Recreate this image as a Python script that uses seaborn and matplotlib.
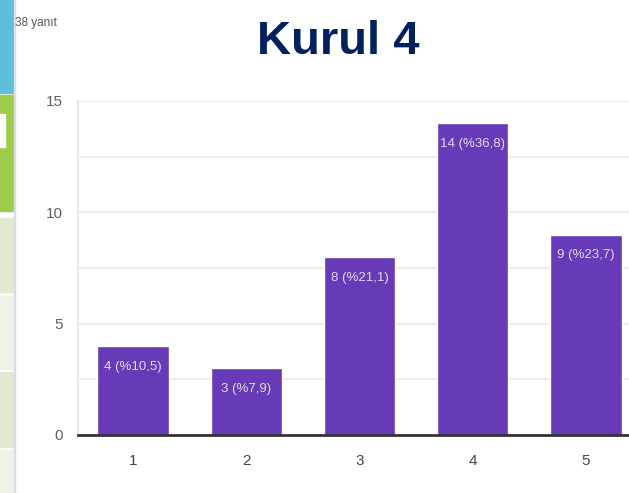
import matplotlib
matplotlib.use("Agg")
import matplotlib.pyplot as plt
from matplotlib.patches import Rectangle
import pandas as pd
import seaborn as sns

# Data
answers = ["1", "2", "3", "4", "5"]
counts = [4, 3, 8, 14, 9]
percents = ["10,5", "7,9", "21,1", "36,8", "23,7"]
title = "Kurul 4"
response_note = "38 yanıt"

bar_color = "#673ab7"

sns.set_theme(style="white")
plt.rcParams["font.family"] = ["Liberation Sans", "DejaVu Sans"]

W, H = 629, 493
fig = plt.figure(figsize=(W / 100, H / 100), dpi=100)

# slide strip on the left side
strips = [(0, 93, "#5bc0d8"), (95, 211, "#9dcb4a"), (218, 292, "#dfead0"),
          (296, 369, "#eef3e8"), (372, 447, "#dfead0"), (450, 493, "#eef3e8")]
for y0, y1, c in strips:
    fig.patches.append(Rectangle((0, 1 - y1 / H), 14 / W, (y1 - y0) / H,
                                 transform=fig.transFigure, color=c, zorder=0))
fig.patches.append(Rectangle((14 / W, 0), 1.5 / W, 1, transform=fig.transFigure,
                             color="#dcdce4", zorder=0))
# cut-off white glyph on the green strip
fig.patches.append(Rectangle((0, 1 - 147 / H), 5 / W, 33 / H,
                             transform=fig.transFigure, color="white", zorder=1))

df = pd.DataFrame({"answer": answers, "count": counts})

ax = fig.add_axes([78 / W, (H - 435) / H, (W - 78) / W, (435 - 101) / H])
sns.barplot(data=df, x="answer", y="count", color=bar_color, saturation=1,
            width=0.63, ax=ax, zorder=3)

for i, (c, p) in enumerate(zip(counts, percents)):
    ax.text(i, c - 0.93, f"{c} (%{p})", ha="center", va="center", color="#e4dcf3",
            fontsize=9.5, zorder=4)

ax.set_ylim(0, 15)
ax.set_xlim(-0.486, 4.38)
ax.set_yticks([0, 5, 10, 15])
ax.set_yticks([2.5, 7.5, 12.5], minor=True)
ax.grid(axis="y", which="both", color="#ececec", linewidth=1.4, zorder=0)
ax.set_xlabel("")
ax.set_ylabel("")
ax.tick_params(axis="y", length=0, pad=11, labelsize=11, labelcolor="#5f5f5f")
ax.tick_params(axis="y", which="minor", length=0)
ax.tick_params(axis="x", length=0, pad=14, labelsize=11, labelcolor="#444444")
for s in ["top", "right"]:
    ax.spines[s].set_visible(False)
ax.spines["left"].set_color("#e6e6e6")
ax.spines["left"].set_linewidth(1.2)
ax.spines["bottom"].set_color("#333333")
ax.spines["bottom"].set_linewidth(2)
ax.spines["bottom"].set_zorder(5)

fig.text(338 / W, 1 - 42 / H, title, ha="center", va="center", fontsize=34,
         fontweight="bold", color="#002060")
fig.text(15 / W, 1 - 23 / H, response_note, ha="left", va="center",
         fontsize=8.5, color="#555555")

fig.savefig("out.png", dpi=100)
